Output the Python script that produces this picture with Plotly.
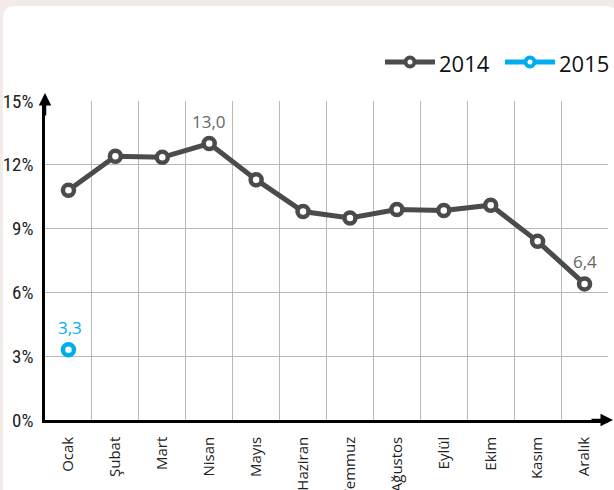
import plotly.graph_objects as go

months = ["Ocak", "Şubat", "Mart", "Nisan", "Mayıs", "Haziran", "Temmuz",
          "Ağustos", "Eylül", "Ekim", "Kasım", "Aralık"]
values_2014 = [10.8, 12.4, 12.35, 13.0, 11.3, 9.8, 9.5, 9.9, 9.85, 10.1, 8.4, 6.4]
months_2015 = ["Ocak"]
values_2015 = [3.3]
label_idx_2014 = [3, 11]
series_names = ["2014", "2015"]
y_ticks = [0, 3, 6, 9, 12, 15]
y_ticktext = [f"{v}%" for v in y_ticks]

DARK = "#4b4b4b"
CYAN = "#00aeef"
BEIGE = "#f2ebe8"
NARROW = "Liberation Sans Narrow, Roboto Condensed, DejaVu Sans Condensed, Arial Narrow, sans-serif"
W, H = 614, 490
ML, MR, MT, MB = 45, 6, 101, 70
PW, PH = W - ML - MR, H - MT - MB


def px_x(px):
    return (px - ML) / PW


def px_y(py):
    return 1 + (MT - py) / PH


fig = go.Figure()
fig.add_trace(go.Scatter(
    x=months, y=values_2014, name=series_names[0], mode="lines+markers",
    line=dict(color=DARK, width=5),
    marker=dict(size=11, color="white", line=dict(color=DARK, width=4.5)),
    cliponaxis=False, showlegend=False,
))
fig.add_trace(go.Scatter(
    x=months_2015, y=values_2015, name=series_names[1], mode="lines+markers",
    line=dict(color=CYAN, width=5),
    marker=dict(size=11, color="white", line=dict(color=CYAN, width=4.5)),
    cliponaxis=False, showlegend=False,
))


def fmt(v):
    return f"{v:.1f}".replace(".", ",")


ann = []
for i in label_idx_2014:
    ann.append(dict(x=months[i], y=values_2014[i], text=fmt(values_2014[i]),
                    showarrow=False, yshift=22,
                    font=dict(size=17, color="#666666", family="Open Sans, sans-serif")))
for m, v in zip(months_2015, values_2015):
    ann.append(dict(x=m, y=v, text=fmt(v), showarrow=False, yshift=22, xshift=2,
                    font=dict(size=17, color=CYAN, family="Open Sans, sans-serif")))

# axis arrows
ann.append(dict(xref="paper", yref="paper", x=0, y=px_y(93), ax=0, ay=24, axref="pixel", ayref="pixel",
                showarrow=True, arrowhead=2, arrowsize=1, arrowwidth=2.5, arrowcolor="black", text=""))
ann.append(dict(xref="paper", yref="paper", x=px_x(614), y=0, ax=-24, ay=0, axref="pixel", ayref="pixel",
                showarrow=True, arrowhead=2, arrowsize=1, arrowwidth=2.5, arrowcolor="black", text=""))

# white rounded panel (background decoration)
L, R, T, B, r = 3, 618, 6, 520, 13
panel = (f"M {px_x(L)},{px_y(B)} L {px_x(L)},{px_y(T + r)} "
         f"Q {px_x(L)},{px_y(T)} {px_x(L + r)},{px_y(T)} L {px_x(R - r)},{px_y(T)} "
         f"Q {px_x(R)},{px_y(T)} {px_x(R)},{px_y(T + r)} L {px_x(R)},{px_y(B)} Z")
shapes = [dict(type="path", path=panel, xref="paper", yref="paper",
               fillcolor="white", line=dict(width=0), layer="below")]

# custom legend (decoration): longer line keys like the reference
legend_colors = [DARK, CYAN]
legend_line_start = [385, 505]
LEG_Y = 62
for name, col, x0 in zip(series_names, legend_colors, legend_line_start):
    shapes.append(dict(type="line", xref="paper", yref="paper",
                       x0=px_x(x0), x1=px_x(x0 + 50), y0=px_y(LEG_Y), y1=px_y(LEG_Y),
                       line=dict(color=col, width=5), layer="above"))
    cx = x0 + 25
    shapes.append(dict(type="circle", xref="paper", yref="paper",
                       x0=px_x(cx - 4.5), x1=px_x(cx + 4.5), y0=px_y(LEG_Y + 4.5), y1=px_y(LEG_Y - 4.5),
                       fillcolor="white", line=dict(color=col, width=4), layer="above"))
    ann.append(dict(xref="paper", yref="paper", x=px_x(x0 + 52), y=px_y(LEG_Y + 1),
                    xanchor="left", yanchor="middle", showarrow=False, text=name,
                    font=dict(size=22, color="#111111", family="Open Sans, sans-serif")))

fig.update_layout(
    width=W, height=H,
    margin=dict(l=ML, r=MR, t=MT, b=MB, autoexpand=False),
    paper_bgcolor=BEIGE, plot_bgcolor="rgba(0,0,0,0)",
    showlegend=False,
    shapes=shapes,
    annotations=ann,
    xaxis=dict(type="category", categoryorder="array", categoryarray=months,
               range=[-0.5, 11.5], tickson="boundaries", showgrid=True,
               gridcolor="#b8b8b8", gridwidth=1, ticks="", tickangle=-90,
               tickfont=dict(size=15, color="#222222", family="Open Sans, sans-serif"),
               showline=True, linecolor="black", linewidth=2.5, zeroline=False,
               ticklabelstandoff=8, automargin=False),
    yaxis=dict(range=[0, 15], tickvals=y_ticks, ticktext=y_ticktext,
               showgrid=True, gridcolor="#b8b8b8", gridwidth=1, ticks="",
               tickfont=dict(size=19, color="#222222", family=NARROW),
               showline=True, linecolor="black", linewidth=2.5, zeroline=False,
               ticklabelstandoff=5, automargin=False),
)

fig.write_html("out.html", config={"displayModeBar": False},
               post_script="document.body.style.margin='0';document.body.style.overflow='hidden';")
